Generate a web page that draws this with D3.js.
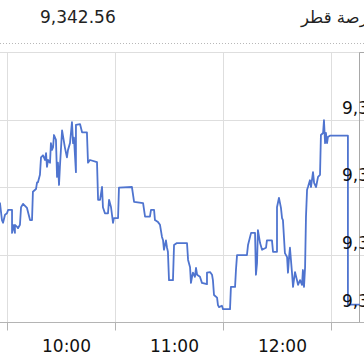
<!DOCTYPE html>
<html>
<head>
<meta charset="utf-8">
<script src="https://cdn.jsdelivr.net/npm/d3@7"></script>
<style>
  body { margin: 0; background: #fff; }
  svg { display: block; font-family: "DejaVu Sans", Verdana, sans-serif; }
</style>
</head>
<body>
<div id="chart"></div>
<script>
const width = 364;
const height = 356;

// Header
const indexTitle = 'بورصة قطر';
const lastValue = 9342.56;

// Intraday series: minutes after 10:00 and index level
const minutes = [
  -8, -3.9, -2.8, -2.2, -1.1, 0, 0.6, 2.8, 2.8, 3.3, 4.4, 4.4, 5.6, 6.1, 7.2, 7.8, 8.9, 11.1,
  12.8, 13.9, 14.4, 16.1, 16.7, 17.2, 18.3, 18.9, 20, 21.1, 21.7, 22.2, 22.8, 23.9, 24.4, 25,
  25.6, 26.1, 27.2, 27.8, 28.3, 28.9, 29.4, 30.6, 32.2, 33.3, 33.9, 35, 36.1, 36.7, 37.2, 38.3,
  38.3, 40.6, 41.7, 44.4, 45, 46.1, 50, 50.6, 51.7, 52.8, 53.3, 54.4, 56.1, 56.7, 57.8, 58.9,
  59.4, 61.7, 62.2, 69.4, 70.6, 75.6, 76.7, 79.4, 80, 81.7, 82.2, 83.9, 85, 86.1, 86.7, 87.2,
  88.3, 88.9, 89.4, 90, 92.2, 92.8, 94.4, 100, 100.6, 101.7, 102.2, 102.8, 103.3, 104.4, 105,
  105.6, 107.2, 108.3, 111.1, 111.1, 112.8, 113.9, 114.4, 115, 116.7, 117.2, 117.8, 119.4, 120,
  123.9, 124.4, 126.7, 127.2, 127.8, 133.3, 133.9, 135.6, 137.8, 138.3, 138.9, 139.4, 140.6,
  141.7, 143.9, 144.4, 147.2, 147.8, 150, 150, 151.1, 152.2, 152.8, 153.3, 154.4, 155.6, 156.1,
  156.7, 157.2, 158.3, 158.9, 160, 161.1, 161.7, 162.8, 163.9, 164.4, 165, 165.6, 166.1, 166.7,
  167.2, 168.3, 168.9, 170, 170.6, 171.7, 172.8, 173.9, 174.4, 175.6, 176.1, 176.7, 177.2, 177.8,
  178.3, 179.4, 189.4, 189.4, 196.1
];
const values = [
  9357.0, 9357.6, 9355.1, 9354.7, 9355.9, 9356.1, 9356.6, 9356.6, 9353.2, 9354.4, 9353.2, 9354.4,
  9354.1, 9353.9, 9354.4, 9357.0, 9357.5, 9356.9, 9355.1, 9355.1, 9359.3, 9359.7, 9360.7, 9360.7,
  9361.8, 9364.4, 9364.7, 9364.0, 9365.0, 9363.0, 9364.0, 9363.6, 9366.5, 9365.5, 9365.9, 9367.7,
  9367.0, 9361.5, 9363.6, 9360.3, 9363.0, 9368.4, 9365.8, 9364.4, 9365.5, 9366.5, 9369.6, 9366.5,
  9367.3, 9362.2, 9369.2, 9369.3, 9368.1, 9368.1, 9363.6, 9364.0, 9363.7, 9358.1, 9358.1, 9360.0,
  9357.0, 9356.1, 9356.1, 9358.1, 9357.0, 9354.7, 9355.4, 9355.4, 9359.9, 9360.0, 9357.8, 9357.6,
  9355.6, 9355.6, 9356.6, 9356.6, 9355.1, 9354.8, 9354.4, 9352.6, 9352.1, 9350.7, 9352.1, 9351.0,
  9350.4, 9346.2, 9346.2, 9351.4, 9351.7, 9351.7, 9349.2, 9348.1, 9345.8, 9346.7, 9347.3, 9346.7,
  9348.0, 9347.0, 9346.7, 9345.8, 9345.6, 9347.3, 9347.4, 9347.0, 9346.2, 9344.0, 9343.6, 9342.5,
  9342.2, 9342.4, 9341.9, 9341.9, 9345.2, 9345.2, 9347.7, 9349.9, 9349.9, 9351.4, 9353.2, 9353.2,
  9347.0, 9348.7, 9353.6, 9351.7, 9350.7, 9351.0, 9352.1, 9352.1, 9350.4, 9350.4, 9357.0, 9358.4,
  9356.9, 9355.4, 9355.1, 9350.2, 9349.6, 9347.3, 9349.6, 9351.0, 9347.4, 9345.2, 9347.4, 9346.2,
  9345.5, 9346.2, 9345.5, 9347.7, 9345.2, 9348.1, 9355.6, 9359.6, 9360.0, 9361.0, 9360.0, 9362.2,
  9360.6, 9360.0, 9361.5, 9361.8, 9367.7, 9368.0, 9369.9, 9366.5, 9368.0, 9366.5, 9367.4, 9367.6,
  9367.6, 9342.56, 9342.56
];

// Axis ticks
const hourTicks = ['10:00', '11:00', '12:00', '13:00'];
const hourLabels = ['10:00', '11:00', '12:00'];
const valueTicks = [9340, 9350, 9360, 9370, 9380];
const valueLabels = [9340, 9350, 9360, 9370];

const parseTime = d3.timeParse('%H:%M');
const start = parseTime('10:00');
const toDate = (m) => new Date(+start + m * 60000);

const data = minutes.map((m, i) => ({ date: toDate(m), value: values[i] }));

const x = d3
  .scaleTime()
  .domain([parseTime('10:00'), parseTime('13:00')])
  .range([7, 331]);

const y = d3.scaleLinear().domain([9340, 9380]).range([322, 52]);

const svg = d3
  .select('#chart')
  .append('svg')
  .attr('width', width)
  .attr('height', height);

// Header
svg
  .append('text')
  .attr('x', 40)
  .attr('y', 23)
  .attr('fill', '#222')
  .style('font-size', '17px')
  .text(d3.format(',.2f')(lastValue));

svg
  .append('text')
  .attr('x', 301)
  .attr('y', 23)
  .attr('fill', '#222')
  .style('font-size', '16.5px')
  .text(indexTitle);

svg
  .append('line')
  .attr('x1', 0)
  .attr('x2', width)
  .attr('y1', 43.5)
  .attr('y2', 43.5)
  .attr('stroke', '#b8b8b8')
  .attr('stroke-dasharray', '1,2');

// Grid
const grid = svg.append('g').attr('stroke', '#dedede').attr('stroke-width', 1);

grid
  .selectAll('line.h')
  .data(valueTicks)
  .join('line')
  .attr('class', 'h')
  .attr('x1', 0)
  .attr('x2', width)
  .attr('y1', (d) => Math.round(y(d)) + 0.5)
  .attr('y2', (d) => Math.round(y(d)) + 0.5);

grid
  .selectAll('line.v')
  .data(hourTicks)
  .join('line')
  .attr('class', 'v')
  .attr('x1', (d) => Math.round(x(parseTime(d))) + 0.5)
  .attr('x2', (d) => Math.round(x(parseTime(d))) + 0.5)
  .attr('y1', y(9380))
  .attr('y2', y(9340));

// X axis
const xAxis = svg.append('g').attr('transform', `translate(0.5, ${y(9340) + 0.5})`);

xAxis
  .append('line')
  .attr('x1', -1)
  .attr('x2', width)
  .attr('stroke', '#b4b4b4');

xAxis
  .selectAll('line.tick')
  .data(hourTicks)
  .join('line')
  .attr('class', 'tick')
  .attr('x1', (d) => Math.round(x(parseTime(d))))
  .attr('x2', (d) => Math.round(x(parseTime(d))))
  .attr('y1', 0)
  .attr('y2', 8)
  .attr('stroke', '#b4b4b4');

xAxis
  .selectAll('text')
  .data(hourLabels)
  .join('text')
  .attr('x', (d) => x(d3.timeMinute.offset(parseTime(d), 30)) + 5)
  .attr('y', 29)
  .attr('text-anchor', 'middle')
  .attr('fill', '#111')
  .style('font-size', '17px')
  .text((d) => d);

// Right value axis
svg
  .append('path')
  .attr('d', `M359.5,${y(9340)}V${y(9380) + 0.5}H${width}`)
  .attr('fill', 'none')
  .attr('stroke', '#a8a8a8');

// Series
const line = d3
  .line()
  .x((d) => x(d.date))
  .y((d) => y(d.value));

svg
  .append('path')
  .datum(data)
  .attr('d', line)
  .attr('fill', 'none')
  .attr('stroke', '#4f74cf')
  .attr('stroke-width', 1.8)
  .attr('stroke-linejoin', 'round');

// Value labels (drawn on top, cut by the right edge)
svg
  .selectAll('text.ylab')
  .data(valueLabels)
  .join('text')
  .attr('class', 'ylab')
  .attr('x', 342)
  .attr('y', (d) => y(d) - (d === 9340 ? 15 : 6))
  .attr('fill', '#111')
  .style('font-size', '17px')
  .text((d) => d3.format(',')(d));
</script>
</body>
</html>
